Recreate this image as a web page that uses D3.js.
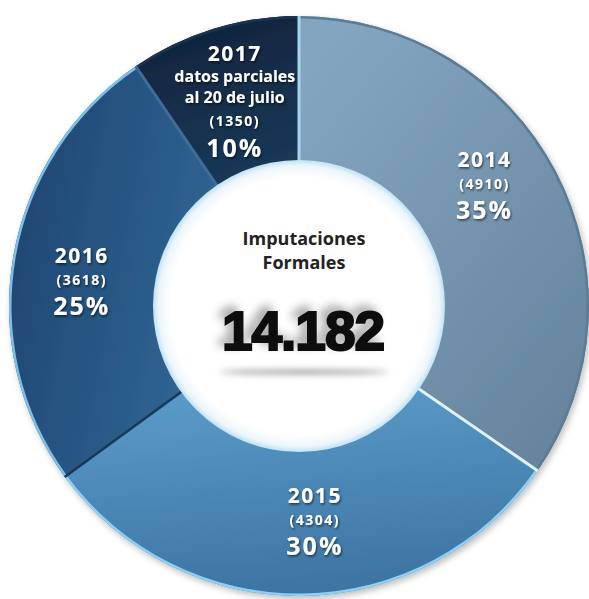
<!DOCTYPE html>
<html><head><meta charset="utf-8">
<script src="https://cdn.jsdelivr.net/npm/d3@7"></script>
<style>body{margin:0;background:#fff}</style>
</head><body><svg id="c" width="589" height="599"></svg>
<script>
// ---- data ----
const years = ["2014", "2015", "2016", "2017"];
const values = [4910, 4304, 3618, 1350];
const counts = ["(4910)", "(4304)", "(3618)", "(1350)"];
const percents = ["35%", "30%", "25%", "10%"];
const notes = [[], [], [], ["datos parciales", "al 20 de julio"]];
const centerTitle = ["Imputaciones", "Formales"];
const totalLabel = "14.182";

// ---- styling ----
const palette = [["#84a5c0", "#66859f"], ["#5a9bc9", "#3c73a2"], ["#326695", "#1d4571"], ["#1a3858", "#0f233b"]];
const rimColors = ["#5d7b93", "#8fd0f2", "#7cc0ea", "#1b3350"];
const W = 589, H = 599, cx = 299, cy = 306, rOut = 290, rIn = 145;

const svg = d3.select("#c");
const defs = svg.append("defs");

const sh = defs.append("filter").attr("id", "ringShadow").attr("x", "-10%").attr("y", "-10%").attr("width", "120%").attr("height", "120%");
sh.append("feDropShadow").attr("dx", 2).attr("dy", 3).attr("stdDeviation", 3).attr("flood-color", "#000").attr("flood-opacity", 0.25);

const ts = defs.append("filter").attr("id", "txtShadow").attr("x", "-20%").attr("y", "-20%").attr("width", "140%").attr("height", "140%");
ts.append("feDropShadow").attr("dx", 1).attr("dy", 1.5).attr("stdDeviation", 1).attr("flood-color", "#000").attr("flood-opacity", 0.6);

const bigSh = defs.append("filter").attr("id", "bigShadow").attr("x", "-30%").attr("y", "-60%").attr("width", "160%").attr("height", "220%");
bigSh.append("feGaussianBlur").attr("in", "SourceAlpha").attr("stdDeviation", 5).attr("result", "b");
bigSh.append("feOffset").attr("in", "b").attr("dx", -6).attr("dy", -5).attr("result", "o");
bigSh.append("feComponentTransfer").attr("in", "o").attr("result", "o2")
  .append("feFuncA").attr("type", "linear").attr("slope", 0.35);
const m = bigSh.append("feMerge");
m.append("feMergeNode").attr("in", "o2");
m.append("feMergeNode").attr("in", "SourceGraphic");

const blur = defs.append("filter").attr("id", "blur").attr("x", "-20%").attr("y", "-200%").attr("width", "140%").attr("height", "500%");
blur.append("feGaussianBlur").attr("stdDeviation", 3);

const gradDirs = [[0.2, 0, 0.9, 0.9], [0.3, 0, 0.5, 1], [1, 0.6, 0, 0.2], [0.5, 1, 0.2, 0]];
palette.forEach((c, i) => {
  const g = defs.append("linearGradient").attr("id", "g" + i)
    .attr("x1", gradDirs[i][0]).attr("y1", gradDirs[i][1]).attr("x2", gradDirs[i][2]).attr("y2", gradDirs[i][3]);
  g.append("stop").attr("offset", "0%").attr("stop-color", c[0]);
  g.append("stop").attr("offset", "100%").attr("stop-color", c[1]);
});

const rg = defs.append("radialGradient").attr("id", "innerGlow");
rg.append("stop").attr("offset", "88%").attr("stop-color", "#ffffff");
rg.append("stop").attr("offset", "96%").attr("stop-color", "#eef6fb");
rg.append("stop").attr("offset", "100%").attr("stop-color", "#bfe2f4");

const pie = d3.pie().sort(null).value(d => d)(values);
const arc = d3.arc().innerRadius(rIn).outerRadius(rOut);
const rimArc = d3.arc().innerRadius(rOut - 2.5).outerRadius(rOut);

const g = svg.append("g").attr("transform", `translate(${cx},${cy})`);
const ring = g.append("g").attr("filter", "url(#ringShadow)");
ring.selectAll("path.slice").data(pie).join("path").attr("class", "slice")
  .attr("d", arc).attr("fill", (d, i) => `url(#g${i})`);
ring.selectAll("path.rim").data(pie).join("path").attr("class", "rim")
  .attr("d", rimArc).attr("fill", (d, i) => rimColors[i]);

// separators
const sepStyles = [["#a8d4ef", 3], ["#e2f2fb", 3], ["#173858", 2.5], ["#3d6d98", 3]];
pie.forEach((d, i) => {
  const a = d.startAngle;
  g.append("line")
    .attr("x1", rIn * Math.sin(a)).attr("y1", -rIn * Math.cos(a))
    .attr("x2", rOut * Math.sin(a)).attr("y2", -rOut * Math.cos(a))
    .attr("stroke", sepStyles[i][0]).attr("stroke-width", sepStyles[i][1]);
});

// inner circle
g.append("circle").attr("r", rIn + 1).attr("fill", "url(#innerGlow)");

// center text
centerTitle.forEach((t, i) => {
  g.append("text").text(t).attr("x", 5).attr("y", -61 + i * 24)
    .attr("text-anchor", "middle").attr("font-family", "Open Sans, sans-serif")
    .attr("font-weight", 700).attr("font-size", 18).attr("fill", "#222");
});
g.append("ellipse").attr("cx", 5).attr("cy", 66).attr("rx", 85).attr("ry", 2).attr("fill", "#888").attr("filter", "url(#blur)");
g.append("text").text(totalLabel).attr("x", 4).attr("y", 44)
  .attr("text-anchor", "middle").attr("font-family", "Liberation Sans, Arial, sans-serif")
  .attr("font-weight", 700).attr("font-size", 55).attr("letter-spacing", -1)
  .attr("fill", "#111").attr("stroke", "#111").attr("stroke-width", 2.2)
  .attr("filter", "url(#bigShadow)");

// slice labels
const labelArc = d3.arc().innerRadius(218).outerRadius(218);
const angleShift = [-0.07, -0.06, -0.09, 0];
const yShift = [-5, -1, -6, 4];
pie.forEach((d, i) => {
  const c = labelArc.centroid({startAngle: d.startAngle + angleShift[i], endAngle: d.endAngle + angleShift[i]});
  const lines = [];
  lines.push({t: years[i], s: 21, ls: 1.5, gap: 0});
  notes[i].forEach(n => lines.push({t: n, s: 16, ls: 0, gap: 21}));
  lines.push({t: counts[i], s: 14, ls: 1.5, gap: notes[i].length ? 23 : 22});
  lines.push({t: percents[i], s: 25, ls: 2, gap: i === 3 ? 31 : 30});
  const tot = d3.sum(lines, l => l.gap);
  let y = c[1] - tot / 2 + 7 + yShift[i];
  const lg = g.append("g").attr("filter", "url(#txtShadow)");
  lines.forEach((l) => {
    y += l.gap;
    lg.append("text").text(l.t).attr("x", c[0]).attr("y", y)
      .attr("text-anchor", "middle").attr("font-family", "Open Sans, sans-serif")
      .attr("font-weight", 700).attr("font-size", l.s).attr("letter-spacing", l.ls)
      .attr("fill", "#fff");
  });
});
</script></body></html>
